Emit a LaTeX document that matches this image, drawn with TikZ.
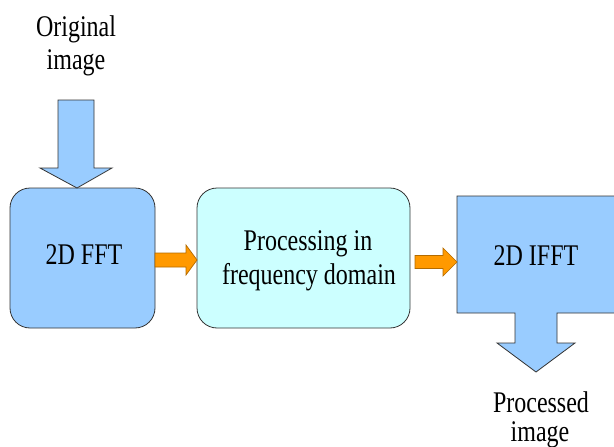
\documentclass[tikz,border=0pt]{standalone}
\usepackage{fontspec}
\setmainfont{Liberation Serif}
\definecolor{boxblue}{HTML}{99CCFF}
\definecolor{boxcyan}{HTML}{CCFFFF}
\definecolor{arrorange}{HTML}{FF9900}
\definecolor{arredge}{HTML}{B36B00}
\definecolor{edgegray}{HTML}{333333}
\begin{document}
\begin{tikzpicture}[x=1pt,y=-1pt,
  lbl/.style={font=\fontsize{30}{36}\selectfont, inner sep=0pt, anchor=base, xscale=0.8},
  blockbox/.style={draw=edgegray, line width=0.8pt, rounded corners=20pt, inner sep=0pt},
  bluefill/.style={draw=edgegray, line width=0.8pt, fill=boxblue},
  orangearr/.style={draw=arredge, line width=0.7pt, fill=arrorange}]
\useasboundingbox (0,0) rectangle (614,447);
% boxes
\node[blockbox, fill=boxblue, minimum width=145pt, minimum height=140pt] (fft) at (82.5,258) {};
\node[blockbox, fill=boxcyan, minimum width=213pt, minimum height=140pt] (proc) at (303.5,258) {};
% input arrow
\path[bluefill] (58,100) -- (94,100) -- (94,168) -- (112,168) -- (77,188) -- (40,168) -- (58,168) -- cycle;
% IFFT shape with output arrow
\path[bluefill] (457,196) -- (618,196) -- (618,313) -- (557,313) -- (557,343) -- (575,343) -- (536,372) -- (497,343) -- (515,343) -- (515,313) -- (457,313) -- cycle;
% orange arrows
\path[orangearr] (155,253) -- (186,253) -- (186,245) -- (197,260) -- (186,275) -- (186,267) -- (155,267) -- cycle;
\path[orangearr] (415,255.5) -- (443,255.5) -- (443,248) -- (457,262) -- (443,276) -- (443,268.5) -- (415,268.5) -- cycle;
% texts
\node[lbl] (orig1) at (76,36) {Original};
\node[lbl] (orig2) at (76,69) {image};
\node[lbl] (fftt) at (84,264) {2D FFT};
\node[lbl] (proc1) at (308,250) {Processing in};
\node[lbl] (proc2) at (309,284) {frequency domain};
\node[lbl] (ifftt) at (536,265) {2D IFFT};
\node[lbl] (out1) at (541,412) {Processed};
\node[lbl] (out2) at (540,441) {image};
\end{tikzpicture}
\end{document}
